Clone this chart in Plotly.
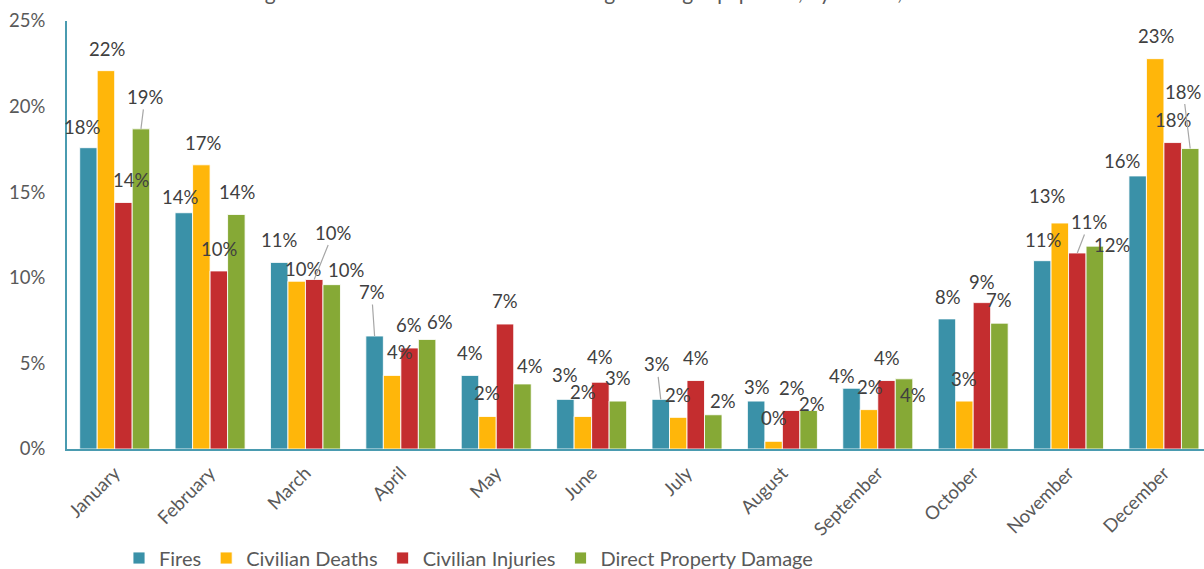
import plotly.graph_objects as go

# ---------------- data ----------------
months = ["January", "February", "March", "April", "May", "June", "July",
          "August", "September", "October", "November", "December"]
fires = [17.6, 13.8, 10.9, 6.6, 4.3, 2.9, 2.9, 2.8, 3.55, 7.6, 11.0, 15.95]
civilian_deaths = [22.1, 16.6, 9.8, 4.3, 1.9, 1.9, 1.85, 0.45, 2.3, 2.8, 13.2, 22.8]
civilian_injuries = [14.4, 10.4, 9.9, 5.9, 7.3, 3.9, 4.0, 2.25, 4.0, 8.55, 11.45, 17.9]
direct_property_damage = [18.7, 13.7, 9.6, 6.4, 3.8, 2.8, 2.0, 2.25, 4.1, 7.35, 11.85, 17.55]
series_names = ["Fires", "Civilian Deaths", "Civilian Injuries", "Direct Property Damage"]
y_ticks = [0, 5, 10, 15, 20, 25]
y_tick_labels = ["0%", "5%", "10%", "15%", "20%", "25%"]

# ---------------- styling / layout ----------------
colors = ["#3A91A8", "#FFB60A", "#C42D2F", "#86A936"]
FONT = "Lato"
W, H = 1204, 569
ML, MR, MT, MB = 67, 0, 21, 120
X_RANGE = [-0.5, 11.42]
BARGAP = 0.266
plot_w = W - ML - MR
plot_h = H - MT - MB
cat_px = plot_w / (X_RANGE[1] - X_RANGE[0])
bar_px = cat_px * (1 - BARGAP) / 4

# label offsets (dx, dy in px from bar top centre; leader flag)
label_offsets = [
    [(-6, -21, 0), (1, -22, 0), (8, -22, 0), (4, -32, 1)],
    [(-4, -16, 0), (2, -22, 0), (0, -22, 0), (1, -22, 0)],
    [(0, -22, 0), (6, -12, 0), (19, -47, 1), (14, -15, 0)],
    [(-3, -44, 1), (8, -23, 0), (-1, -23, 0), (13, -17, 0)],
    [(0, -22, 0), (0, -23, 0), (0, -23, 0), (8, -18, 0)],
    [(0, -24, 0), (0, -24, 0), (0, -25, 0), (0, -23, 0)],
    [(-4, -35, 1), (0, -22, 0), (0, -23, 0), (10, -14, 0)],
    [(1, -14, 0), (0, -23, 0), (1, -22, 0), (3, -6, 0)],
    [(-10, -12, 0), (1, -23, 0), (0, -23, 0), (9, 16, 0)],
    [(1, -22, 0), (0, -22, 0), (0, -21, 0), (0, -23, 0)],
    [(1, -21, 0), (-13, -27, 0), (12, -31, 1), (17, -1, 0)],
    [(-16, -15, 0), (1, -23, 0), (0, -23, 0), (-7, -57, 1)],
]

all_series = [fires, civilian_deaths, civilian_injuries, direct_property_damage]

fig = go.Figure()
for name, vals, col in zip(series_names, all_series, colors):
    fig.add_trace(go.Bar(
        x=months, y=vals, name=name,
        marker=dict(color=col, line=dict(color="rgba(255,255,255,0.85)", width=1)),
        hoverinfo="x+y",
    ))

LABEL_FONT = dict(family=FONT, size=18.5, color="#404040")
annotations = []
for i, m in enumerate(months):
    for k, vals in enumerate(all_series):
        v = vals[i]
        dx, dy, leader = label_offsets[i][k]
        off = (k - 1.5) * bar_px
        txt = f"{round(v)}%"
        if leader:
            annotations.append(dict(
                x=m, y=v, xref="x", yref="y", text=txt, xshift=off,
                showarrow=True, ax=dx, ay=dy, arrowhead=0, arrowwidth=1.2,
                arrowcolor="#A6A6A6", standoff=0, font=LABEL_FONT,
            ))
        else:
            annotations.append(dict(
                x=m, y=v, xref="x", yref="y", text=txt,
                xshift=off + dx, yshift=-dy, showarrow=False, font=LABEL_FONT,
            ))

# title, mostly above the top edge of the picture (only descenders visible)
annotations.append(dict(
    x=(600 - ML) / plot_w, y=1 + (MT + 8) / plot_h, xref="paper", yref="paper",
    xanchor="center", yanchor="middle", showarrow=False,
    text="Percentage of Home Fires and Losses Involving Heating Equipment, by Month, 2014–2018",
    font=dict(family=FONT, size=21, color="#595959"),
))

fig.update_layout(
    width=W, height=H,
    margin=dict(l=ML, r=MR, t=MT, b=MB, pad=0, autoexpand=False),
    paper_bgcolor="white", plot_bgcolor="white",
    barmode="group", bargap=BARGAP, bargroupgap=0,
    font=dict(family=FONT, size=17, color="#595959"),
    showlegend=True,
    legend=dict(
        orientation="h", x=(119 - ML) / plot_w, xanchor="left",
        y=-(558 - (H - MB)) / plot_h, yanchor="middle",
        font=dict(family=FONT, size=20, color="#595959"),
        itemwidth=30, traceorder="normal",
    ),
    annotations=annotations,
)
fig.update_xaxes(
    range=X_RANGE, showline=True, linecolor="#4A9BB0", linewidth=2,
    showgrid=False, ticks="", tickangle=-45, ticklabelstandoff=4,
    tickfont=dict(family=FONT, size=18.5, color="#595959"), fixedrange=True,
)
fig.update_yaxes(
    range=[0, 25], tickvals=y_ticks, ticktext=y_tick_labels,
    showline=True, linecolor="#4A9BB0", linewidth=2, showgrid=False,
    zeroline=False, ticks="", ticklabelstandoff=16,
    tickfont=dict(family=FONT, size=18.5, color="#595959"), fixedrange=True,
)

fig.write_html(
    "out.html",
    config={"displayModeBar": False},
    post_script="document.body.style.margin='0px';document.body.style.overflow='hidden';",
)
